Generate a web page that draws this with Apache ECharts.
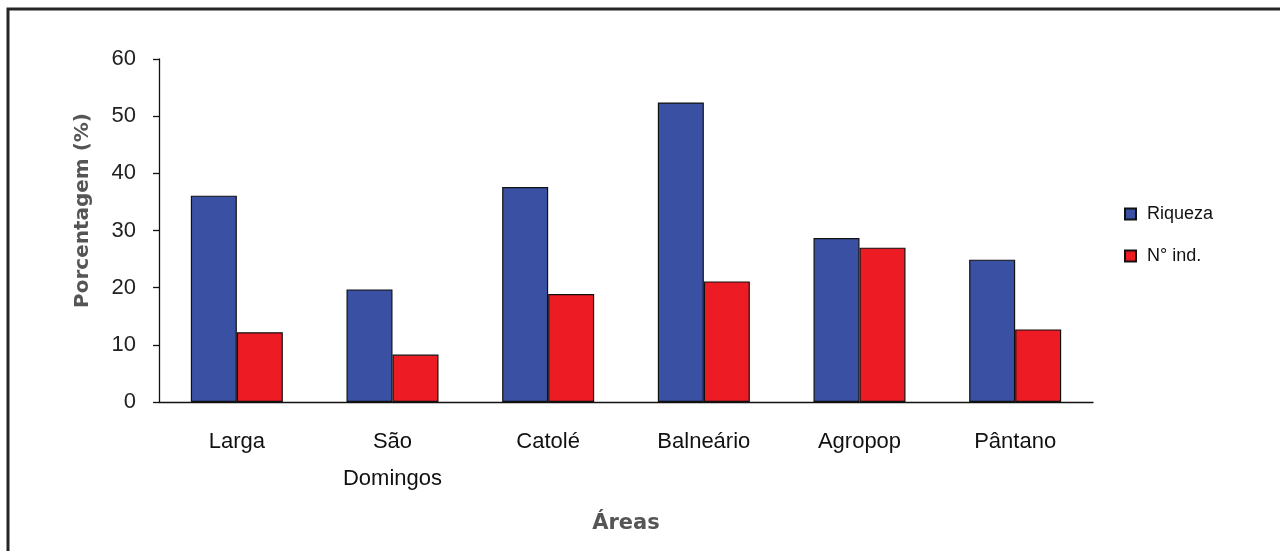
<!DOCTYPE html>
<html>
<head>
<meta charset="utf-8">
<script src="https://cdn.jsdelivr.net/npm/echarts@6/dist/echarts.min.js"></script>
<style>
  html, body { margin: 0; padding: 0; background: #fff; }
  #chart { width: 1280px; height: 551px; }
</style>
</head>
<body>
<div id="chart"></div>
<script>
// Areas sampled and percentage values per series
const areas = ['Larga', 'São\nDomingos', 'Catolé', 'Balneário', 'Agropop', 'Pântano'];
const riqueza = [36.1, 19.7, 37.6, 52.4, 28.7, 24.9];
const nInd = [12.2, 8.3, 18.9, 21.1, 27.0, 12.7];
const seriesNames = ['Riqueza', 'N° ind.'];

const font = '"Liberation Sans", Arial, sans-serif';
const boldFont = '"DejaVu Sans", Verdana, sans-serif';
const chart = echarts.init(document.getElementById('chart'), null, { renderer: 'canvas' });

chart.setOption({
  backgroundColor: '#ffffff',
  animation: false,
  graphic: [{
    type: 'rect',
    left: 5.5, top: 6.5,
    shape: { width: 1300, height: 600 },
    style: { fill: 'none', stroke: '#262626', lineWidth: 3 }
  }],
  legend: {
    orient: 'vertical',
    left: 1119,
    top: 200,
    itemWidth: 11,
    itemHeight: 11,
    itemGap: 24,
    icon: 'rect',
    data: seriesNames,
    textStyle: { fontFamily: font, fontSize: 18, color: '#111', padding: [0, 0, 0, 6] }
  },
  grid: { left: 159, right: 187, top: 59, bottom: 149 },
  xAxis: {
    type: 'category',
    data: areas,
    name: 'Áreas',
    nameLocation: 'middle',
    nameGap: 111,
    nameTextStyle: { fontFamily: boldFont, fontSize: 21, fontWeight: 'bold', color: '#555' },
    axisLine: { lineStyle: { color: '#111', width: 1.3 } },
    axisTick: { length: 7, lineStyle: { color: '#111', width: 1.3 } },
    axisLabel: {
      fontFamily: font, fontSize: 22, color: '#111',
      margin: 21, lineHeight: 37, interval: 0
    }
  },
  yAxis: {
    type: 'value',
    min: 0, max: 60, interval: 10,
    name: 'Porcentagem (%)',
    nameLocation: 'middle',
    nameGap: 66,
    nameTextStyle: {
      fontFamily: boldFont, fontSize: 20, fontWeight: 'bold', color: '#555',
      padding: [0, 0, 0, 40]
    },
    splitLine: { show: false },
    axisLine: { show: true, lineStyle: { color: '#111', width: 1.3 } },
    axisTick: { show: true, length: 6, lineStyle: { color: '#111', width: 1.3 } },
    axisLabel: { fontFamily: font, fontSize: 22, color: '#222', margin: 23 }
  },
  series: [
    {
      name: seriesNames[0],
      type: 'bar',
      data: riqueza,
      barWidth: 46,
      barGap: '0%',
      itemStyle: { color: '#3A51A3', borderColor: '#111', borderWidth: 1.2 }
    },
    {
      name: seriesNames[1],
      type: 'bar',
      data: nInd,
      barWidth: 46,
      barGap: '0%',
      itemStyle: { color: '#ED1C24', borderColor: '#111', borderWidth: 1.2 }
    }
  ]
});
</script>
</body>
</html>
